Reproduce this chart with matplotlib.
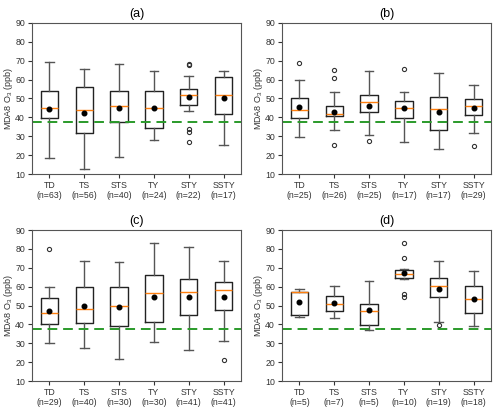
import matplotlib
matplotlib.use("Agg")
import matplotlib.pyplot as plt

plt.rcParams['font.family'] = ['Liberation Sans', 'DejaVu Sans']
plt.rcParams['mathtext.fontset'] = 'custom'
plt.rcParams['mathtext.rm'] = 'Liberation Sans'

categories = ["TD", "TS", "STS", "TY", "STY", "SSTY"]
panel_titles = ["(a)", "(b)", "(c)", "(d)"]
counts = [
    [63, 56, 40, 24, 22, 17],
    [25, 26, 25, 17, 17, 29],
    [29, 40, 30, 30, 41, 41],
    [5, 7, 5, 10, 19, 18],
]
whislo = [
    [18.5, 12.5, 19.0, 28.0, 43.5, 25.5],
    [29.5, 33.5, 30.5, 27.0, 23.5, 31.5],
    [30.0, 27.5, 21.5, 30.5, 26.5, 31.0],
    [43.8, 43.5, 37.0, 64.0, 41.5, 39.0],
]
q1 = [
    [39.5, 31.5, 37.5, 34.5, 46.5, 42.0],
    [39.5, 40.5, 43.0, 39.5, 33.5, 41.5],
    [40.0, 40.5, 39.0, 41.0, 45.0, 47.8],
    [45.0, 47.0, 39.5, 64.5, 54.5, 46.0],
]
med = [
    [45.0, 44.0, 45.8, 45.0, 52.0, 52.0],
    [43.8, 42.0, 48.0, 45.0, 44.3, 46.0],
    [46.0, 48.3, 49.7, 56.5, 57.2, 58.2],
    [57.0, 51.0, 47.0, 66.8, 60.2, 53.5],
]
q3 = [
    [54.0, 56.0, 54.0, 54.0, 55.0, 61.5],
    [50.5, 46.0, 52.0, 48.5, 51.0, 49.5],
    [54.0, 60.0, 60.0, 66.0, 64.0, 62.5],
    [57.0, 55.0, 51.0, 69.0, 64.5, 60.5],
]
whishi = [
    [69.5, 65.5, 68.5, 64.5, 62.0, 64.5],
    [60.0, 53.5, 64.5, 53.7, 63.7, 57.0],
    [60.0, 73.5, 73.0, 83.0, 81.0, 73.5],
    [58.5, 60.5, 62.8, 69.5, 73.5, 68.5],
]
means = [
    [44.5, 42.5, 45.2, 45.0, 51.0, 50.0],
    [45.5, 43.0, 46.0, 44.8, 43.0, 45.0],
    [47.0, 49.5, 49.0, 54.7, 54.5, 54.5],
    [52.0, 51.2, 47.5, 67.0, 58.5, 53.5],
]
fliers = [
    [[], [], [], [], [67.5, 68.2, 34.0, 32.0, 27.0], []],
    [[69.0], [65.0, 61.0, 25.5], [27.5], [65.8], [], [25.0]],
    [[80.0], [], [], [], [], [21.0]],
    [[], [], [], [83.0, 75.3, 56.0, 54.5], [39.5], []],
]
threshold = 37.3
yticks = [10, 20, 30, 40, 50, 60, 70, 80, 90]

fig = plt.figure(figsize=(5.0, 4.11), dpi=100)
W, H = 500, 411
lefts = [32, 282]
tops = [23, 230]
aw, ah = 209, 151

for p in range(4):
    r, c = divmod(p, 2)
    ax = fig.add_axes([lefts[c] / W, 1 - (tops[r] + ah) / H, aw / W, ah / H])
    stats = []
    for i, cat in enumerate(categories):
        stats.append(dict(
            label=f"{cat}\n(n={counts[p][i]})",
            whislo=whislo[p][i], q1=q1[p][i], med=med[p][i], q3=q3[p][i],
            whishi=whishi[p][i], mean=means[p][i], fliers=fliers[p][i]))
    ax.bxp(stats, showmeans=True, widths=0.5,
           boxprops=dict(color='#222222', linewidth=1.0),
           whiskerprops=dict(color='#555555', linewidth=1.0),
           capprops=dict(color='#555555', linewidth=1.0),
           medianprops=dict(color='#ff7f0e', linewidth=1.0),
           meanprops=dict(marker='o', markerfacecolor='black', markeredgecolor='black', markersize=3.3),
           flierprops=dict(marker='o', markerfacecolor='none', markeredgecolor='#333333', markersize=3, markeredgewidth=0.8))
    ax.axhline(threshold, color='#2a9a2a', linestyle='--', linewidth=1.4, dashes=(5, 3))
    ax.set_ylim(10, 90)
    ax.set_yticks(yticks)
    ax.set_xlim(0.5, 6.5)
    ax.tick_params(labelsize=6.3, colors='#333333', length=3, pad=2)
    for lab in ax.get_xticklabels():
        lab.set_linespacing(1.15)
    ax.set_ylabel('MDA8 O$_3$ (ppb)', fontsize=6.5, color='#333333')
    ax.yaxis.set_label_coords(-17.0 / aw, 0.5)
    ax.set_title(panel_titles[p], fontsize=9, pad=4)
    for s in ax.spines.values():
        s.set_color('#555555')

fig.savefig('out.png', dpi=100)
